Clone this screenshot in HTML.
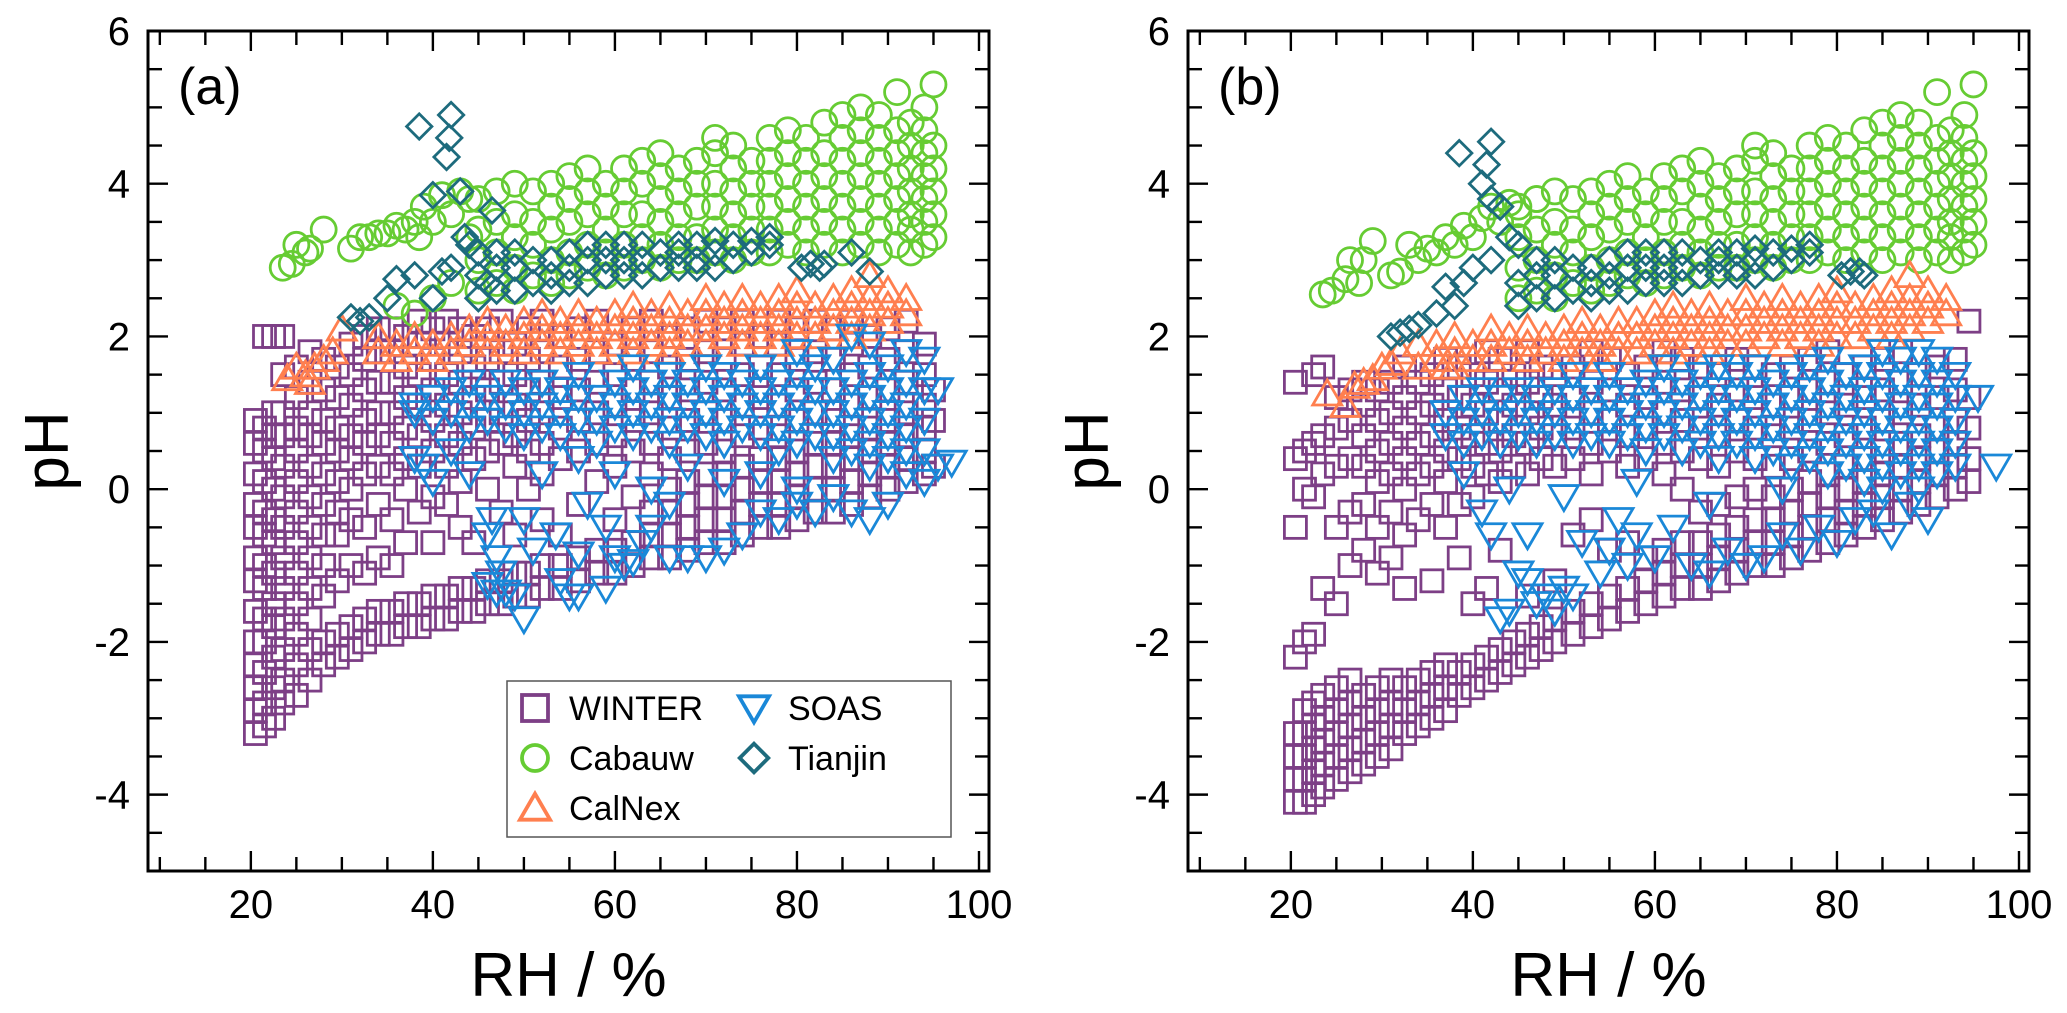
<!DOCTYPE html>
<html><head><meta charset="utf-8"><style>
html,body{margin:0;padding:0;background:#fff;}
svg{display:block;font-family:"Liberation Sans",Arial,sans-serif;}
</style></head><body>
<svg id="chart" width="2067" height="1013" viewBox="0 0 2067 1013" xmlns="http://www.w3.org/2000/svg">
<g id="panelA"></g>
<g id="panelB" transform="translate(1040,0)"></g>
</svg>
<script>
// ---- axis ticks ----
const xTickLabels = [20, 40, 60, 80, 100];
const yTickLabels = [-4, -2, 0, 2, 4, 6];

// ---- panel (a) data: columns [RH, [pH...]] and extra [RH, pH] pairs ----
const winterA = [[20.5,[-3.2,-2.9,-2.6,-2.3,-2.0,-1.6,-1.2,-0.9,-0.5,-0.2,0.2,0.6,0.9]],[21.5,[-3.1,-2.8,-2.4,-2.0,-1.7,-1.3,-1.0,-0.6,-0.3,0.1,0.5,0.8,2.0]],[22.5,[-3.0,-2.6,-2.2,-1.8,-1.5,-1.1,-0.7,-0.4,0.0,0.4,0.7,1.0,2.0]],[23.5,[-2.8,-2.5,-2.1,-1.7,-1.3,-0.9,-0.5,-0.1,0.3,0.7,1.0,1.5,2.0]],[25,[-2.7,-2.3,-1.9,-1.5,-1.1,-0.7,-0.3,0.1,0.5,0.8,1.2,1.6]],[26.5,[-2.5,-2.1,-1.7,-1.3,-0.9,-0.5,-0.1,0.3,0.7,1.0,1.4,1.8]],[28,[-2.3,-2.0,-1.4,-1.0,-0.6,-0.2,0.2,0.6,0.9,1.3,1.7]],[29.5,[-2.2,-1.9,-1.2,-0.6,-0.3,0.1,0.5,0.8,1.2,1.6]],[31,[-2.1,-1.8,-1.0,-0.4,0.0,0.4,0.7,1.1,1.5,1.9]],[32.5,[-2.0,-1.7,-1.1,-0.5,0.2,0.6,0.9,1.3,1.7,2.0]],[34,[-1.9,-1.6,-0.9,-0.2,0.3,0.7,1.0,1.4,1.8,2.1]],[35.5,[-1.9,-1.6,-1.0,-0.4,0.2,0.6,1.0,1.4,1.8,2.1]],[37,[-1.8,-1.5,-0.7,0.0,0.4,0.8,1.2,1.6,2.0]],[38.5,[-1.8,-1.5,-0.3,0.3,0.7,1.1,1.5,1.9,2.2]],[40,[-1.7,-1.4,-0.7,-0.1,0.5,0.9,1.3,1.7,2.1]],[41.5,[-1.7,-1.4,-0.2,0.3,0.7,1.1,1.5,1.9,2.2]],[43,[-1.6,-1.3,-0.5,0.1,0.6,1.0,1.4,1.8,2.1]],[44.5,[-1.6,-1.3,-0.7,0.4,0.8,1.2,1.6,2.0]],[46,[-1.5,-1.2,0.0,0.5,0.9,1.3,1.7,2.1]],[47.5,[-1.5,-1.2,-0.3,0.6,1.0,1.4,1.8,2.2]],[49,[-1.4,-1.1,-0.6,0.3,0.7,1.1,1.5,1.9]],[50.5,[-1.4,-1.1,0.0,0.5,0.9,1.3,1.7,2.1]],[52,[-1.3,-1.0,-0.4,0.2,0.6,1.0,1.4,1.8,2.2]],[54,[-1.3,-1.0,-0.6,0.4,0.8,1.2,1.6,2.0]],[56,[-1.2,-0.9,-0.2,0.5,0.9,1.3,1.7,2.1]],[58,[-1.1,-0.8,0.1,0.6,1.0,1.4,1.8,2.2]],[60,[-1.1,-0.8,-0.4,0.3,0.7,1.1,1.5,1.9]],[62,[-1.0,-0.7,-0.1,0.5,0.9,1.3,1.7,2.1]],[64,[-0.9,-0.6,-0.3,0.2,0.6,1.0,1.4,1.8,2.2]],[66,[-0.9,-0.6,-0.3,0.0,0.4,0.8,1.2,1.6,2.0]],[68,[-0.8,-0.5,-0.2,0.1,0.5,0.9,1.3,1.7,2.1]],[70,[-0.7,-0.4,-0.1,0.2,0.6,1.0,1.4,1.8,2.2]],[72,[-0.7,-0.4,-0.1,0.2,0.5,0.9,1.3,1.7,2.1]],[74,[-0.6,-0.3,0.0,0.3,0.7,1.1,1.5,1.9,2.2]],[76,[-0.5,-0.2,0.1,0.4,0.8,1.2,1.6,2.0]],[78,[-0.5,-0.2,0.1,0.4,0.7,1.1,1.5,1.9,2.2]],[80,[-0.4,-0.1,0.2,0.5,0.9,1.3,1.7,2.1]],[82,[-0.3,0.0,0.3,0.6,1.0,1.4,1.8,2.2]],[84,[-0.3,0.0,0.3,0.6,0.9,1.3,1.7,2.1]],[86,[-0.2,0.1,0.4,0.7,1.1,1.5,1.9,2.2]],[88,[-0.1,0.2,0.5,0.8,1.2,1.6,2.0]],[90,[0.0,0.3,0.6,0.9,1.3,1.7,2.1]],[92,[0.1,0.4,0.7,1.0,1.4,1.8,2.2]],[94,[0.2,0.5,0.8,1.1,1.5,1.9]],[95,[0.3,0.9,1.3]]];
const cabauwA = [[45,[2.6,3.0,3.4,3.8]],[47,[2.7,3.1,3.5,3.9]],[49,[2.6,2.9,3.3,3.6,4.0]],[51,[2.8,3.2,3.5,3.9]],[53,[2.7,3.0,3.4,3.7,4.0]],[55,[2.8,3.1,3.5,3.8,4.1]],[57,[2.9,3.2,3.6,3.9,4.2]],[59,[2.8,3.1,3.4,3.7,4.0]],[61,[2.9,3.2,3.6,3.9,4.2]],[63,[3.0,3.3,3.6,4.0,4.3]],[65,[2.9,3.2,3.5,3.8,4.1,4.4]],[67,[3.0,3.3,3.6,3.9,4.2]],[69,[3.0,3.3,3.7,4.0,4.3]],[71,[3.1,3.4,3.7,4.0,4.4,4.6]],[73,[3.0,3.3,3.6,3.9,4.2,4.5]],[75,[3.1,3.4,3.7,4.0,4.3]],[77,[3.1,3.4,3.7,4.0,4.3,4.6]],[79,[3.2,3.5,3.8,4.1,4.4,4.7]],[81,[3.1,3.4,3.7,4.0,4.3,4.6]],[83,[3.2,3.5,3.8,4.1,4.4,4.8]],[85,[3.1,3.4,3.7,4.0,4.3,4.6,4.9]],[87,[3.2,3.5,3.8,4.1,4.4,4.7,5.0]],[89,[3.1,3.4,3.7,4.0,4.3,4.6,4.9]],[91,[3.2,3.5,3.8,4.1,4.4,4.7,5.2]],[92.5,[3.1,3.4,3.6,3.9,4.2,4.5,4.8]],[94,[3.2,3.5,3.8,4.1,4.4,4.7,5.0]],[95,[3.3,3.6,3.9,4.2,4.5,5.3]]];
const cabauwAExtra = [[23.5,2.9],[24.5,2.95],[25,3.2],[26,3.1],[26.5,3.15],[28,3.4],[31,3.15],[32,3.3],[33,3.3],[34,3.35],[35,3.35],[36,3.45],[37,3.4],[38,3.5],[38.5,3.3],[39,3.7],[40,3.5],[41,3.85],[42,3.6],[43,3.9],[44,3.8],[36,2.4],[38,2.3],[40,2.5],[42,2.7],[44,3.3]];
const calnexA = [[34,[1.8,2.0]],[36,[1.7,1.9]],[38,[1.8,2.0]],[40,[1.7,1.9]],[42,[1.8,2.0]],[44,[1.9,2.1]],[46,[1.8,2.0,2.2]],[48,[1.9,2.1]],[50,[1.8,2.0,2.2]],[52,[1.9,2.1,2.3]],[54,[1.8,2.0,2.2]],[56,[1.9,2.1,2.3]],[58,[1.8,2.0,2.2]],[60,[1.9,2.1,2.3]],[62,[1.8,2.0,2.2,2.4]],[64,[1.9,2.1,2.3]],[66,[1.8,2.0,2.2,2.4]],[68,[1.9,2.1,2.3]],[70,[1.9,2.1,2.3,2.5]],[72,[2.0,2.2,2.4]],[74,[1.9,2.1,2.3,2.5]],[76,[2.0,2.2,2.4]],[78,[1.9,2.1,2.3,2.5]],[80,[2.0,2.2,2.4,2.6]],[82,[2.0,2.2,2.4]],[84,[2.1,2.3,2.5]],[86,[2.0,2.2,2.4,2.6]],[88,[2.1,2.3,2.5,2.8]],[90,[2.2,2.4,2.6]],[92,[2.3,2.5]]];
const calnexAExtra = [[24,1.45],[25,1.6],[26,1.5],[26.5,1.4],[27,1.6],[28,1.7],[29,1.8],[30,2.1]];
const soasA = [[38,[1.0,1.1]],[40,[0.9,1.2]],[42,[1.0,1.3]],[44,[0.8,1.1,1.4]],[46,[0.9,1.2]],[48,[0.8,1.1,1.4]],[50,[0.7,1.0,1.3]],[52,[0.8,1.1,1.4]],[54,[0.7,1.0,1.3]],[56,[0.9,1.2,1.5]],[58,[0.6,0.9,1.2]],[60,[0.8,1.1,1.4]],[62,[0.7,1.0,1.3,1.6]],[64,[0.8,1.1,1.4]],[66,[0.6,0.9,1.2,1.5]],[68,[0.8,1.1,1.4]],[70,[0.7,1.0,1.3,1.6]],[72,[0.6,0.9,1.2,1.5]],[74,[0.8,1.1,1.4]],[76,[0.7,1.0,1.3,1.6]],[78,[0.5,0.8,1.1,1.4]],[80,[0.6,0.9,1.2,1.5,1.8]],[82,[0.7,1.0,1.3,1.6]],[84,[0.4,0.7,1.0,1.3,1.7]],[86,[0.5,0.8,1.1,1.4,2.0]],[88,[0.3,0.6,0.9,1.2,1.5,1.9]],[90,[0.4,0.7,1.0,1.3,1.6]],[92,[0.2,0.5,0.8,1.1,1.4,1.8]],[94,[0.1,0.5,0.9,1.3,1.7]],[95.5,[0.3,1.3]],[97,[0.35]]];
const soasAExtra = [[38,0.4],[39,0.3],[40,0.1],[42,0.5],[44,0.2],[46,-0.6],[46.5,-0.4],[47,-0.9],[47.5,-1.1],[46,-1.25],[47,-1.35],[48,-1.35],[49,-1.4],[50,-1.7],[50,-0.4],[51,-0.8],[53.5,-0.6],[54,-1.2],[55,-1.4],[56,-1.4],[57,-0.2],[56,-0.85],[59,-1.3],[59,-0.5],[60,-0.9],[61,-1.0],[62,-0.95],[63,-0.7],[64,-0.5],[66,-0.2],[66,-0.9],[68,-0.9],[70,-0.9],[72,-0.8],[74,-0.6],[76,-0.3],[78,-0.4],[80,-0.2],[82,-0.3],[84,-0.1],[86,-0.3],[88,-0.4],[90,-0.2],[52,0.2],[56,0.4],[60,0.2],[64,0.0],[68,0.3],[72,0.1],[76,0.2],[80,0.0]];
const tianjinA = [[45,[2.5,2.8]],[47,[2.6,2.9,3.1]],[49,[2.6,2.9,3.1]],[51,[2.7,3.0]],[53,[2.6,2.8,3.0]],[55,[2.7,2.9,3.1]],[57,[2.7,3.0,3.2]],[59,[2.8,3.0,3.2]],[61,[2.8,3.0,3.2]],[63,[2.8,3.0,3.2]],[65,[2.9,3.1]],[67,[2.9,3.1,3.2]],[69,[2.9,3.0,3.2]],[71,[2.9,3.1,3.25]],[73,[3.0,3.2]],[75,[3.1,3.25]],[77,[3.2,3.3]]];
const tianjinAExtra = [[38.5,4.75],[42,4.9],[41.8,4.6],[41.5,4.35],[40,3.85],[43,3.9],[46.5,3.65],[31,2.25],[32,2.2],[33,2.25],[35,2.5],[36,2.75],[38,2.8],[40,2.5],[41,2.85],[42,2.9],[43.5,3.3],[44,3.2],[45,3.1],[46,2.7],[80.5,2.9],[81.5,2.95],[82.5,2.9],[83,2.95],[86,3.1],[88,2.85]];

// ---- panel (b) data ----
const winterB = [[20.5,[-4.1,-3.8,-3.5,-3.2,-2.2,-0.5,0.4,1.4]],[21.5,[-4.1,-3.8,-3.5,-3.2,-2.9,-2.0,0.0,0.5]],[22.5,[-4.0,-3.7,-3.4,-3.1,-2.8,-1.9,-0.1,0.6,1.5]],[23.5,[-3.9,-3.6,-3.3,-3.0,-2.7,-1.3,0.2,0.7,1.6]],[25,[-3.8,-3.5,-3.2,-2.9,-2.6,-1.5,-0.5,0.3,0.8,1.2]],[26.5,[-3.7,-3.4,-3.1,-2.8,-2.5,-1.0,-0.3,0.4,0.9,1.3]],[28,[-3.6,-3.3,-3.0,-2.7,-0.8,-0.2,0.3,0.7,1.1,1.4]],[29.5,[-3.5,-3.2,-2.9,-2.6,-1.1,-0.5,0.1,0.5,0.9,1.3]],[31,[-3.4,-3.1,-2.8,-2.5,-0.9,-0.3,0.2,0.6,1.0,1.4]],[32.5,[-3.2,-2.9,-2.6,-1.3,-0.6,0.0,0.4,0.8,1.2,1.6]],[34,[-3.1,-2.8,-2.5,-0.4,0.2,0.6,1.0,1.4]],[35.5,[-3.0,-2.7,-2.4,-1.2,-0.2,0.3,0.7,1.1,1.5]],[37,[-2.9,-2.6,-2.3,-0.5,0.1,0.5,0.9,1.3,1.7]],[38.5,[-2.7,-2.4,-0.9,-0.2,0.4,0.8,1.2,1.6]],[40,[-2.6,-2.3,-1.5,-0.1,0.3,0.7,1.1,1.5]],[41.5,[-2.5,-2.2,-1.3,0.2,0.6,1.0,1.4,1.8]],[43,[-2.4,-2.1,-0.8,0.1,0.5,0.9,1.3,1.7]],[44.5,[-2.3,-2.0,0.3,0.7,1.1,1.5]],[46,[-2.2,-1.9,-1.4,0.2,0.6,1.0,1.4,1.8]],[47.5,[-2.1,-1.8,0.4,0.8,1.2,1.6]],[49,[-2.0,-1.7,-1.2,0.3,0.7,1.1,1.5]],[51,[-1.9,-1.6,-0.6,0.4,0.8,1.2,1.6]],[53,[-1.8,-1.5,-0.4,0.2,0.6,1.0,1.4,1.8]],[55,[-1.7,-1.4,-0.8,0.5,0.9,1.3,1.7]],[57,[-1.6,-1.3,-0.7,0.3,0.7,1.1,1.5]],[59,[-1.5,-1.2,-0.9,0.4,0.8,1.2,1.6]],[61,[-1.4,-1.1,-0.8,0.2,0.6,1.0,1.4,1.8]],[63,[-1.3,-1.0,-0.7,0.0,0.5,0.9,1.3,1.7]],[65,[-1.3,-1.0,-0.7,-0.3,0.4,0.8,1.2,1.6]],[67,[-1.2,-0.9,-0.6,-0.2,0.3,0.7,1.1,1.5]],[69,[-1.1,-0.8,-0.5,-0.1,0.5,0.9,1.3,1.7]],[71,[-1.0,-0.7,-0.4,0.0,0.4,0.8,1.2,1.6]],[73,[-1.0,-0.7,-0.4,-0.1,0.3,0.7,1.1,1.5]],[75,[-0.9,-0.6,-0.3,0.0,0.4,0.8,1.2,1.6]],[77,[-0.8,-0.5,-0.2,0.1,0.5,0.9,1.3,1.7]],[79,[-0.7,-0.4,-0.1,0.2,0.6,1.0,1.4,1.8]],[81,[-0.6,-0.3,0.0,0.3,0.7,1.1,1.5]],[83,[-0.5,-0.2,0.1,0.4,0.8,1.2,1.6]],[85,[-0.4,-0.1,0.2,0.5,0.9,1.3,1.7]],[87,[-0.3,0.0,0.3,0.6,1.0,1.4,1.8]],[89,[-0.2,0.1,0.4,0.7,1.1,1.5]],[91,[-0.1,0.2,0.5,0.8,1.2,1.6]],[93,[0.0,0.3,0.6,0.9,1.3,1.7]],[94.5,[0.1,0.4,0.8,1.2,2.2]]];
const cabauwB = [[45,[2.5,2.9,3.3,3.7]],[47,[2.6,3.0,3.4,3.8]],[49,[2.5,2.8,3.2,3.5,3.9]],[51,[2.7,3.1,3.4,3.8]],[53,[2.6,2.9,3.3,3.6,3.9]],[55,[2.7,3.0,3.4,3.7,4.0]],[57,[2.8,3.1,3.5,3.8,4.1]],[59,[2.7,3.0,3.3,3.6,3.9]],[61,[2.8,3.1,3.5,3.8,4.1]],[63,[2.9,3.2,3.5,3.9,4.2]],[65,[2.8,3.1,3.4,3.7,4.0,4.3]],[67,[2.9,3.2,3.5,3.8,4.1]],[69,[2.9,3.2,3.6,3.9,4.2]],[71,[3.0,3.3,3.6,3.9,4.3,4.5]],[73,[2.9,3.2,3.5,3.8,4.1,4.4]],[75,[3.0,3.3,3.6,3.9,4.2]],[77,[3.0,3.3,3.6,3.9,4.2,4.5]],[79,[3.1,3.4,3.7,4.0,4.3,4.6]],[81,[3.0,3.3,3.6,3.9,4.2,4.5]],[83,[3.1,3.4,3.7,4.0,4.3,4.7]],[85,[3.0,3.3,3.6,3.9,4.2,4.5,4.8]],[87,[3.1,3.4,3.7,4.0,4.3,4.6,4.9]],[89,[3.0,3.3,3.6,3.9,4.2,4.5,4.8]],[91,[3.1,3.4,3.7,4.0,4.3,4.6,5.2]],[92.5,[3.0,3.3,3.5,3.8,4.1,4.4,4.7]],[94,[3.1,3.4,3.7,4.0,4.3,4.6,4.9]],[95,[3.2,3.5,3.8,4.1,4.4,5.3]]];
const cabauwBExtra = [[23.5,2.55],[24.5,2.6],[26,2.75],[26.5,3.0],[27.5,2.7],[28,3.0],[29,3.25],[31,2.8],[32,2.85],[33,3.2],[34,3.0],[35,3.15],[36,3.1],[37,3.3],[38,3.2],[39,3.45],[40,3.3],[41,3.55],[42,3.7],[43,3.5],[44,3.75],[45,3.6],[47,3.8]];
const calnexB = [[34,[1.6,1.9]],[36,[1.7,1.9]],[38,[1.6,1.8,2.0]],[40,[1.7,1.9]],[42,[1.7,1.9,2.1]],[44,[1.8,2.0]],[46,[1.7,1.9,2.1]],[48,[1.8,2.0]],[50,[1.7,1.9,2.1]],[52,[1.8,2.0,2.2]],[54,[1.7,1.9,2.1]],[56,[1.8,2.0,2.2]],[58,[1.8,2.0,2.2]],[60,[1.9,2.1,2.3]],[62,[1.8,2.0,2.2,2.4]],[64,[1.9,2.1,2.3]],[66,[1.8,2.0,2.2,2.4]],[68,[1.9,2.1,2.3]],[70,[1.9,2.1,2.3,2.5]],[72,[2.0,2.2,2.4]],[74,[1.9,2.1,2.3,2.5]],[76,[2.0,2.2,2.4]],[78,[1.9,2.1,2.3,2.5]],[80,[2.0,2.2,2.4,2.6]],[82,[2.0,2.2,2.4]],[84,[2.1,2.3,2.5]],[86,[2.0,2.2,2.4,2.6]],[88,[2.1,2.3,2.5,2.8]],[90,[2.2,2.4,2.6]],[92,[2.3,2.5]]];
const calnexBExtra = [[24,1.25],[26,1.1],[27,1.35],[28,1.4],[29,1.45],[30,1.6],[31,1.65],[32,1.8],[37,1.6]];
const soasB = [[37,[0.7,1.0]],[39,[0.6,0.9,1.2]],[41,[0.7,1.0,1.3]],[43,[0.6,0.9,1.2]],[45,[0.7,1.0,1.3]],[47,[0.6,0.9,1.2]],[49,[0.7,1.0,1.3]],[51,[0.6,0.9,1.2,1.5]],[53,[0.7,1.0,1.3]],[55,[0.6,0.9,1.2,1.5]],[57,[0.7,1.0,1.3]],[59,[0.5,0.8,1.1,1.4]],[61,[0.7,1.0,1.3,1.6]],[63,[0.5,0.8,1.1,1.4]],[65,[0.6,0.9,1.2,1.5]],[67,[0.4,0.7,1.0,1.3,1.6]],[69,[0.6,0.9,1.2,1.5]],[71,[0.4,0.7,1.0,1.3,1.6]],[73,[0.5,0.8,1.1,1.4]],[75,[0.3,0.6,0.9,1.2,1.5]],[77,[0.4,0.7,1.0,1.3,1.6]],[79,[0.2,0.5,0.8,1.1,1.4,1.7]],[81,[0.3,0.6,0.9,1.2,1.5]],[83,[0.1,0.4,0.7,1.0,1.3,1.6]],[85,[0.0,0.3,0.6,0.9,1.2,1.5,1.8]],[87,[0.2,0.5,0.8,1.1,1.4,1.7]],[89,[0.0,0.3,0.6,0.9,1.2,1.5,1.8]],[91,[0.2,0.5,0.8,1.1,1.4,1.7]],[93,[0.3,0.6,0.9,1.2,1.5]]];
const soasBExtra = [[41,-0.3],[42,-0.6],[43,-1.7],[44,-1.6],[45,-1.1],[46,-1.2],[46,-0.6],[47,-1.5],[48,-1.4],[49,-1.6],[50,-1.3],[51,-1.4],[52,-0.7],[54,-1.1],[55,-0.8],[56,-0.4],[57,-1.0],[58,-0.6],[60,-0.9],[62,-0.5],[64,-1.0],[66,-1.1],[68,-0.8],[70,-1.0],[72,-0.9],[74,-0.6],[76,-0.8],[78,-0.5],[80,-0.7],[82,-0.4],[84,-0.3],[86,-0.6],[88,-0.2],[90,-0.4],[97.5,0.3],[95.5,1.2],[39,0.2],[44,0.0],[50,-0.1],[58,0.1],[66,-0.2],[74,0.0]];
const tianjinB = [[45,[2.4,2.7]],[47,[2.5,2.8,3.0]],[49,[2.5,2.8,3.0]],[51,[2.6,2.9]],[53,[2.5,2.7,2.9]],[55,[2.6,2.8,3.0]],[57,[2.6,2.9,3.1]],[59,[2.7,2.9,3.1]],[61,[2.7,2.9,3.1]],[63,[2.7,2.9,3.1]],[65,[2.8,3.0]],[67,[2.8,3.0,3.1]],[69,[2.8,2.9,3.1]],[71,[2.8,3.0,3.15]],[73,[2.9,3.1]],[75,[3.0,3.15]],[77,[3.1,3.2]]];
const tianjinBExtra = [[38.5,4.4],[42,4.55],[41.5,4.25],[41,4.0],[42,3.8],[43,3.7],[31,2.0],[32,2.05],[33,2.1],[34,2.15],[36,2.3],[37,2.65],[38,2.4],[39,2.7],[40,2.9],[42,3.0],[44,3.3],[45,3.2],[80.5,2.8],[81.5,2.85],[82.5,2.85],[83,2.8]];

// ---- geometry ----
const X0 = 148, X1 = 989, XMIN = 8.7, XMAX = 101.1;
const YT = 31, YB = 871, YMIN = -5, YMAX = 6;
const xs = v => X0 + (v - XMIN) / (XMAX - XMIN) * (X1 - X0);
const ys = v => YB - (v - YMIN) / (YMAX - YMIN) * (YB - YT);
const NS = 'http://www.w3.org/2000/svg';
const COL = {winter:'#7d3f86', cabauw:'#66cc33', calnex:'#ff7f4f', soas:'#1a88d8', tianjin:'#1d6b7d'};

function mk(tag, attrs, parent) {
  const el = document.createElementNS(NS, tag);
  for (const k in attrs) el.setAttribute(k, attrs[k]);
  parent.appendChild(el);
  return el;
}
function expand(cols, extra) {
  const out = [];
  cols.forEach(c => c[1].forEach(p => out.push([c[0], p])));
  (extra || []).forEach(p => out.push(p));
  return out;
}
function marker(kind, cx, cy, s, parent, sw) {
  const a = {fill:'none', stroke:COL[kind], 'stroke-width':sw};
  let el;
  if (kind === 'winter') { a.x = cx - s/2; a.y = cy - s/2; a.width = s; a.height = s; el = mk('rect', a, parent); }
  else if (kind === 'cabauw') { a.cx = cx; a.cy = cy; a.r = s/2; el = mk('circle', a, parent); }
  else if (kind === 'calnex') { a.points = `${cx},${cy - s*0.55} ${cx + s*0.58},${cy + s*0.45} ${cx - s*0.58},${cy + s*0.45}`; el = mk('polygon', a, parent); }
  else if (kind === 'soas') { a.points = `${cx},${cy + s*0.55} ${cx + s*0.58},${cy - s*0.45} ${cx - s*0.58},${cy - s*0.45}`; el = mk('polygon', a, parent); }
  else { a.points = `${cx},${cy - s*0.55} ${cx + s*0.55},${cy} ${cx},${cy + s*0.55} ${cx - s*0.55},${cy}`; el = mk('polygon', a, parent); }
  return el;
}
function series(g, kind, pts, size) {
  const sg = mk('g', {}, g);
  
  
  pts.forEach(p => {
    const el = marker(kind, xs(p[0]), ys(p[1]), size, sg, 2.8);
    
    
  });
}
function axes(g, label) {
  const ax = mk('g', {}, g);
  
  
  for (let v = 10; v <= 100; v += 5) {
    const major = v % 20 === 0, L = major ? 20 : 14, x = xs(v);
    mk('line', {x1:x, x2:x, y1:YB, y2:YB - L, stroke:'#000', 'stroke-width':2.4}, ax);
    mk('line', {x1:x, x2:x, y1:YT, y2:YT + L, stroke:'#000', 'stroke-width':2.4}, ax);
  }
  for (let v = -5; v <= 6; v += 0.5) {
    const major = Math.abs(v % 2) === 0, L = major ? 20 : 14, y = ys(v);
    mk('line', {x1:X0, x2:X0 + L, y1:y, y2:y, stroke:'#000', 'stroke-width':2.4}, ax);
    mk('line', {x1:X1, x2:X1 - L, y1:y, y2:y, stroke:'#000', 'stroke-width':2.4}, ax);
  }
  const fr = mk('rect', {x:X0, y:YT, width:X1 - X0, height:YB - YT, fill:'none', stroke:'#000', 'stroke-width':3}, ax);
  
  
  xTickLabels.forEach(v => {
    const t = mk('text', {x:xs(v), y:918, 'font-size':40, 'text-anchor':'middle'}, ax);
    
    
    t.textContent = v;
  });
  yTickLabels.forEach(v => {
    const t = mk('text', {x:130, y:ys(v) + 14, 'font-size':40, 'text-anchor':'end'}, ax);
    
    
    t.textContent = v;
  });
  const xt = mk('text', {x:(X0 + X1)/2, y:996, 'font-size':62, 'text-anchor':'middle'}, ax);
  
  
  xt.textContent = 'RH / %';
  const yt = mk('text', {x:0, y:0, 'font-size':62, 'text-anchor':'middle', transform:`translate(68,${(YT+YB)/2}) rotate(-90)`}, ax);
  
  
  yt.textContent = 'pH';
  const pl = mk('text', {x:178, y:104, 'font-size':52}, ax);
  
  
  pl.textContent = label;
}
function draw(g, d, label) {
  series(g, 'winter', d.w, 22);
  series(g, 'cabauw', d.c, 25);
  series(g, 'calnex', d.n, 25);
  series(g, 'soas', d.s, 25);
  series(g, 'tianjin', d.t, 23);
  axes(g, label);
}
const gA = document.getElementById('panelA');
const gB = document.getElementById('panelB');
draw(gA, {w:expand(winterA), c:expand(cabauwA, cabauwAExtra), n:expand(calnexA, calnexAExtra), s:expand(soasA, soasAExtra), t:expand(tianjinA, tianjinAExtra)}, '(a)');
draw(gB, {w:expand(winterB), c:expand(cabauwB, cabauwBExtra), n:expand(calnexB, calnexBExtra), s:expand(soasB, soasBExtra), t:expand(tianjinB, tianjinBExtra)}, '(b)');

// ---- legend (panel a) ----
const legendNames = ['WINTER', 'SOAS', 'Cabauw', 'Tianjin', 'CalNex'];
const legendKinds = ['winter', 'soas', 'cabauw', 'tianjin', 'calnex'];
const lg = mk('g', {}, gA);


mk('rect', {x:507, y:681, width:444, height:156, fill:'#fff', stroke:'#555', 'stroke-width':1.5}, lg);
legendNames.forEach((name, i) => {
  const col = i % 2, row = Math.floor(i / 2);
  const mx = col === 0 ? 535 : 754, my = 708 + row * 50;
  const e = mk('g', {}, lg);
  
  
  marker(legendKinds[i], mx, my, 26, e, 3.8);
  const t = mk('text', {x:mx + 34, y:my + 12, 'font-size':34}, e);
  t.textContent = name;
});
</script>
</body></html>
